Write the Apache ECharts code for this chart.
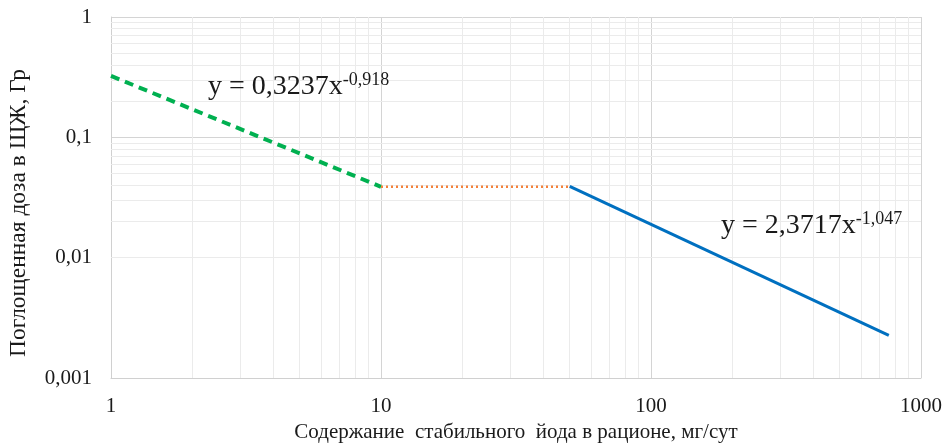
<!DOCTYPE html>
<html><head><meta charset="utf-8">
<script src="https://cdn.jsdelivr.net/npm/echarts@6/dist/echarts.min.js"></script>
<style>html,body{margin:0;padding:0;background:#fff}#c{width:945px;height:445px}</style>
</head><body><div id="c"></div>
<script>
// Data
const greenSeries = [[1, 0.324], [10, 0.0388]];
const orangeSeries = [[10, 0.0388], [50, 0.0388]];
const blueSeries = [[50, 0.0392], [760, 0.00226]];
const xMinorValues = [2,3,4,5,6,7,8,9,20,30,40,50,60,70,80,90,200,300,400,500,600,700,800,900];
const yMinorValues = [0.002,0.003,0.004,0.005,0.006,0.007,0.008,0.009,0.02,0.03,0.04,0.05,0.06,0.07,0.08,0.09,0.2,0.3,0.4,0.5,0.6,0.7,0.8,0.9];
const eq1 = ['y = 0,3237x', '-0,918'];
const eq2 = ['y = 2,3717x', '-1,047'];
const xName = 'Содержание  стабильного  йода в рационе, мг/сут';
const yName = 'Поглощенная доза в ЩЖ, Гр';

const font = 'Liberation Serif';
const chart = echarts.init(document.getElementById('c'));
const minorLine = {color: '#ebebeb', width: 1, type: 'solid'};
const fmt = v => String(+(+v).toPrecision(6)).replace('.', ',');
const eqRich = {
  a: {fontFamily: font, fontSize: 28, fill: '#1a1a1a', lineHeight: 32},
  b: {fontFamily: font, fontSize: 18, fill: '#1a1a1a', lineHeight: 32, verticalAlign: 'top'}
};
chart.setOption({
  animation: false,
  grid: {left: 111, right: 24, top: 17, bottom: 67, outerBoundsMode: 'none', containLabel: false},
  xAxis: {
    type: 'log', logBase: 10, min: 1, max: 1000,
    name: xName, nameLocation: 'middle', nameGap: 43,
    nameTextStyle: {fontFamily: font, fontSize: 21, color: '#1a1a1a'},
    axisLine: {show: true, lineStyle: {color: '#d0d0d0'}},
    axisTick: {show: false},
    axisLabel: {fontFamily: font, fontSize: 21, color: '#1a1a1a', margin: 18, formatter: fmt},
    splitLine: {show: true, lineStyle: {color: '#d4d4d4', width: 1}}
  },
  yAxis: {
    type: 'log', logBase: 10, min: 0.001, max: 1,
    axisLine: {show: true, lineStyle: {color: '#d0d0d0'}},
    axisTick: {show: false},
    axisLabel: {fontFamily: font, fontSize: 21, color: '#1a1a1a', margin: 19, formatter: fmt},
    splitLine: {show: true, lineStyle: {color: '#d4d4d4', width: 1}}
  },
  series: [
    {type: 'line', data: [], z: 1, silent: true,
     markLine: {silent: true, symbol: 'none', label: {show: false}, lineStyle: minorLine, animation: false,
       data: xMinorValues.map(v => ({xAxis: v})).concat(yMinorValues.map(v => ({yAxis: v})))}},
    {type: 'line', data: greenSeries, symbol: 'none', z: 5,
     lineStyle: {color: '#00b050', width: 4, type: [9, 6]}},
    {type: 'line', data: orangeSeries, symbol: 'none', z: 5,
     lineStyle: {color: '#f4813a', width: 2.5, type: [2, 3]}},
    {type: 'line', data: blueSeries, symbol: 'none', z: 5,
     lineStyle: {color: '#0070c0', width: 3}}
  ],
  graphic: [
    {type: 'text', left: 208, top: 71, z: 10,
     style: {text: '{a|' + eq1[0] + '}{b|' + eq1[1] + '}', rich: eqRich}},
    {type: 'text', left: 721, top: 210, z: 10,
     style: {text: '{a|' + eq2[0] + '}{b|' + eq2[1] + '}', rich: eqRich}},
    {type: 'text', x: 19, y: 213, rotation: Math.PI / 2, z: 10,
     style: {text: yName, fontFamily: font, fontSize: 23.5, fill: '#1a1a1a', align: 'center', verticalAlign: 'middle'}}
  ]
});
</script></body></html>
